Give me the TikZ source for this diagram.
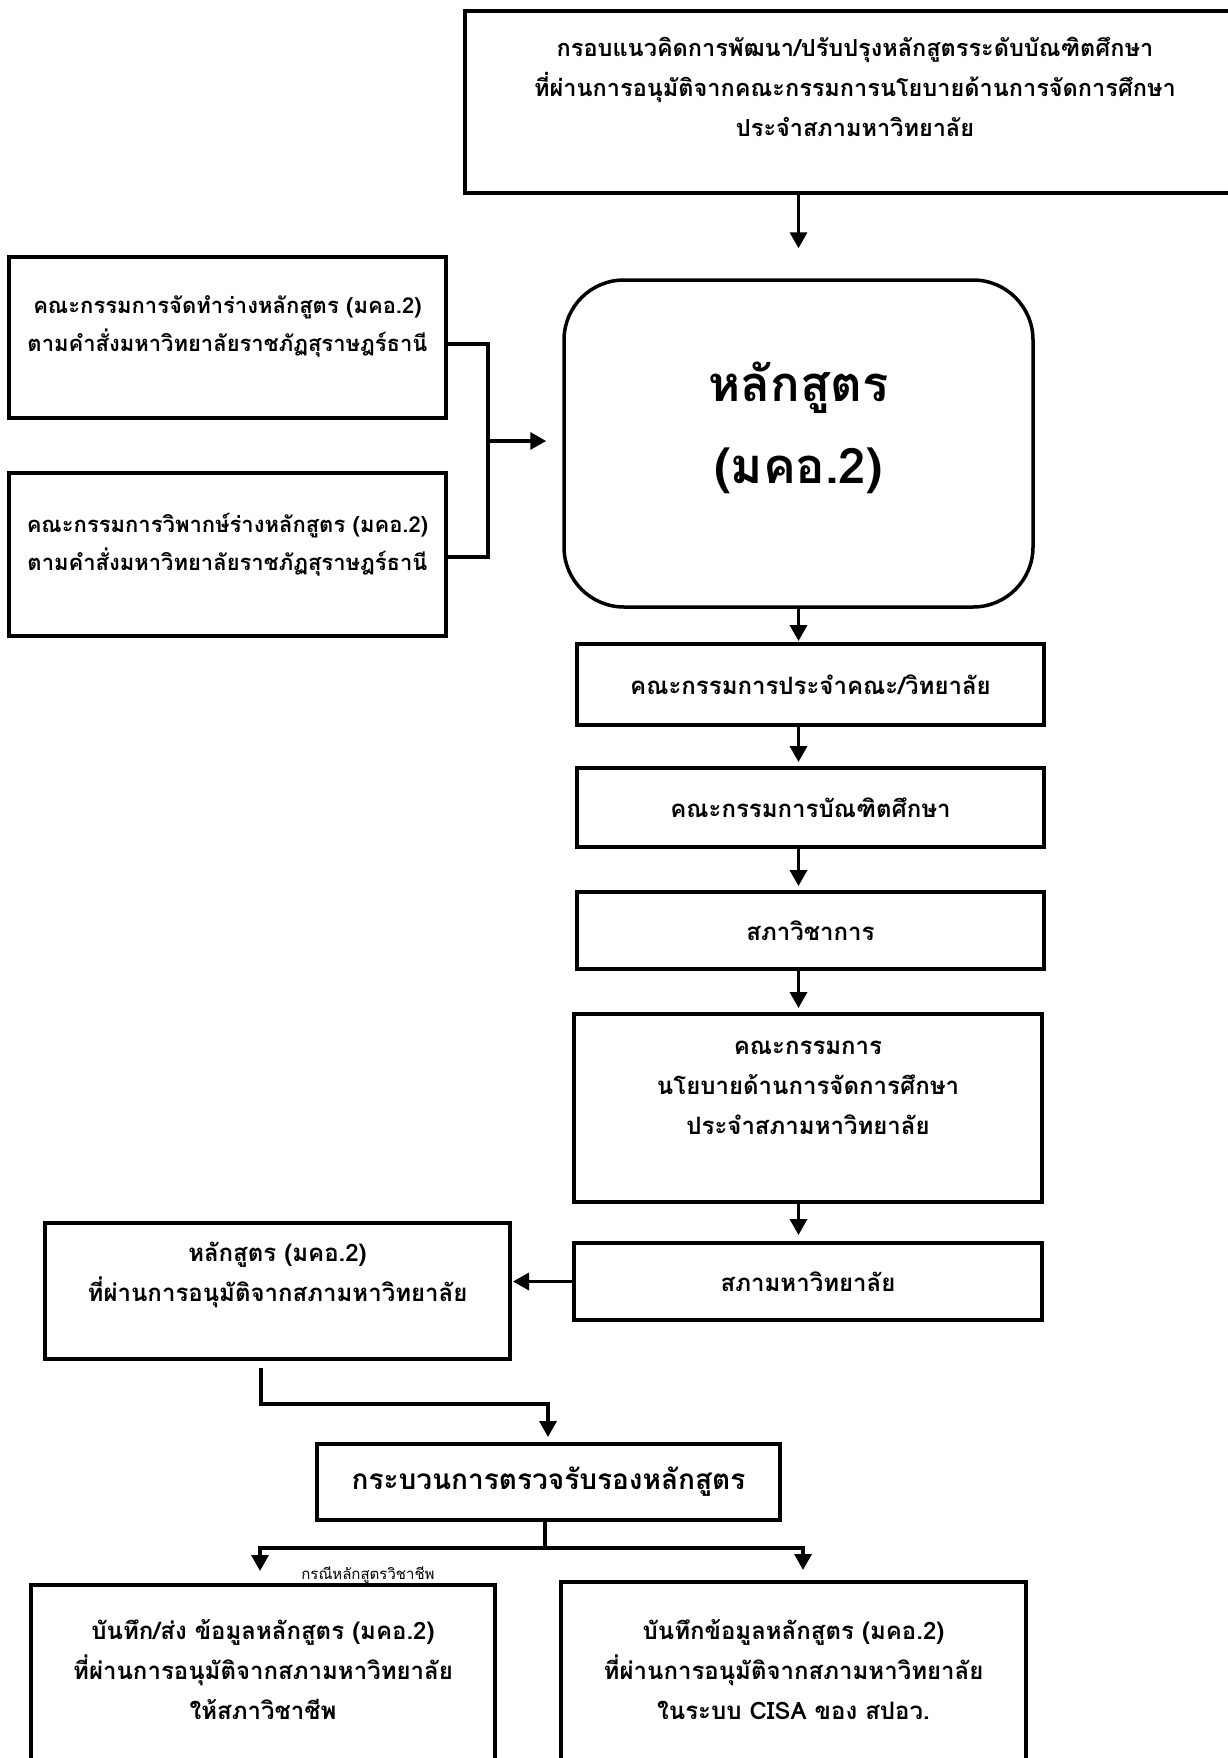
\documentclass[tikz,border=0pt]{standalone}
\usepackage{fontspec}
\setmainfont[Script=Thai]{Loma}
\usetikzlibrary{arrows.meta}

\tikzset{
  box/.style={draw, line width=4pt, align=center, inner sep=0pt},
  lift/.style={text depth=#1},
  flow/.style={-{Triangle[length=16pt,width=17pt]}, line width=3.5pt}
}

\begin{document}
\begin{tikzpicture}[x=1pt,y=-1pt,font=\bfseries\fontsize{24}{40}\selectfont]
  \useasboundingbox (0,0) rectangle (1227,1758);

  \node[box, minimum width=780pt, minimum height=182pt, lift=30pt, font=\bfseries\fontsize{23.5}{40}\selectfont] (frame) at (855,102) {กรอบแนวคิดการพัฒนา/ปรับปรุงหลักสูตรระดับบัณฑิตศึกษา\\ที่ผ่านการอนุมัติจากคณะกรรมการนโยบายด้านการจัดการศึกษา\\ประจำสภามหาวิทยาลัย};
  \node[box, line width=3.5pt, rounded corners=60pt, minimum width=469pt, minimum height=327pt, lift=42pt, font=\bfseries\fontsize{49}{82}\selectfont] (course) at (798.5,443.5) {หลักสูตร\\(มคอ.2)};

  \node[box, minimum width=437pt, minimum height=161pt, lift=28pt, font=\bfseries\fontsize{22}{38}\selectfont] (draft) at (227.5,337.5) {คณะกรรมการจัดทำร่างหลักสูตร (มคอ.2)\\ตามคำสั่งมหาวิทยาลัยราชภัฏสุราษฎร์ธานี};
  \node[box, minimum width=437pt, minimum height=163pt, lift=26pt, font=\bfseries\fontsize{22}{38}\selectfont] (critique) at (227.5,554.5) {คณะกรรมการวิพากษ์ร่างหลักสูตร (มคอ.2)\\ตามคำสั่งมหาวิทยาลัยราชภัฏสุราษฎร์ธานี};

  \node[box, minimum width=467pt, minimum height=81pt] (faculty) at (810.5,684.5) {คณะกรรมการประจำคณะ/วิทยาลัย};
  \node[box, minimum width=467pt, minimum height=79pt] (graduate) at (810.5,807.5) {คณะกรรมการบัณฑิตศึกษา};
  \node[box, minimum width=467pt, minimum height=77pt] (academic) at (810.5,930.5) {สภาวิชาการ};
  \node[box, minimum width=468pt, minimum height=188pt, lift=40pt] (policy) at (808,1108) {คณะกรรมการ\\นโยบายด้านการจัดการศึกษา\\ประจำสภามหาวิทยาลัย};
  \node[box, minimum width=468pt, minimum height=77pt] (council) at (808,1281.5) {สภามหาวิทยาลัย};
  \node[box, minimum width=465pt, minimum height=136pt, lift=38pt] (approved) at (277.5,1291) {หลักสูตร (มคอ.2)\\ที่ผ่านการอนุมัติจากสภามหาวิทยาลัย};

  \node[box, minimum width=463pt, minimum height=76pt, font=\bfseries\fontsize{28}{40}\selectfont] (certify) at (548.5,1482) {กระบวนการตรวจรับรองหลักสูตร};
  \node[box, minimum width=464pt, minimum height=220pt, lift=52pt] (vocational) at (263,1695) {บันทึก/ส่ง ข้อมูลหลักสูตร (มคอ.2)\\ที่ผ่านการอนุมัติจากสภามหาวิทยาลัย\\ให้สภาวิชาชีพ};
  \node[box, minimum width=465pt, minimum height=220pt, lift=46pt] (cisa) at (793.5,1692) {บันทึกข้อมูลหลักสูตร (มคอ.2)\\ที่ผ่านการอนุมัติจากสภามหาวิทยาลัย\\ในระบบ CISA ของ สปอว.};
  \node[font=\fontsize{15}{16}\selectfont] (vocnote) at (368,1575) {กรณีหลักสูตรวิชาชีพ};

  % left committees into the course
  \coordinate (join) at (488,441);
  \draw[line width=3.5pt] ([yshift=-6.5pt]draft.east) -| (join) |- ([yshift=-2.5pt]critique.east);
  \draw[flow, shorten >=16pt] (join) -- (join -| course.west);

  % main chain
  \draw[flow, shorten >=30pt] (frame.south -| course.north) -- (course.north);
  \draw[flow, shorten >=1pt] (course.south) -- (course.south |- faculty.north);
  \draw[flow, shorten >=4pt] (course.south |- faculty.south) -- (course.south |- graduate.north);
  \draw[flow, shorten >=4pt] (course.south |- graduate.south) -- (course.south |- academic.north);
  \draw[flow, shorten >=4pt] (course.south |- academic.south) -- (course.south |- policy.north);
  \draw[flow, shorten >=6pt] (course.south |- policy.south) -- (course.south |- council.north);
  \draw[flow, shorten >=1pt] (council.west) -- (council.west -| approved.east);

  % to certification and both records
  \draw[flow, shorten <=7pt, shorten >=5pt] ([xshift=-16.5pt]approved.south) |- ++(287,43) -- (certify.north -| 548,0);
  \draw[flow, shorten >=12pt] (certify.south -| 545,0) -- ++(0,26) -| ([xshift=-3pt]vocational.north);
  \draw[flow, shorten >=10pt] (certify.south -| 545,0) -- ++(0,26) -| ([xshift=9.5pt]cisa.north);
\end{tikzpicture}
\end{document}
